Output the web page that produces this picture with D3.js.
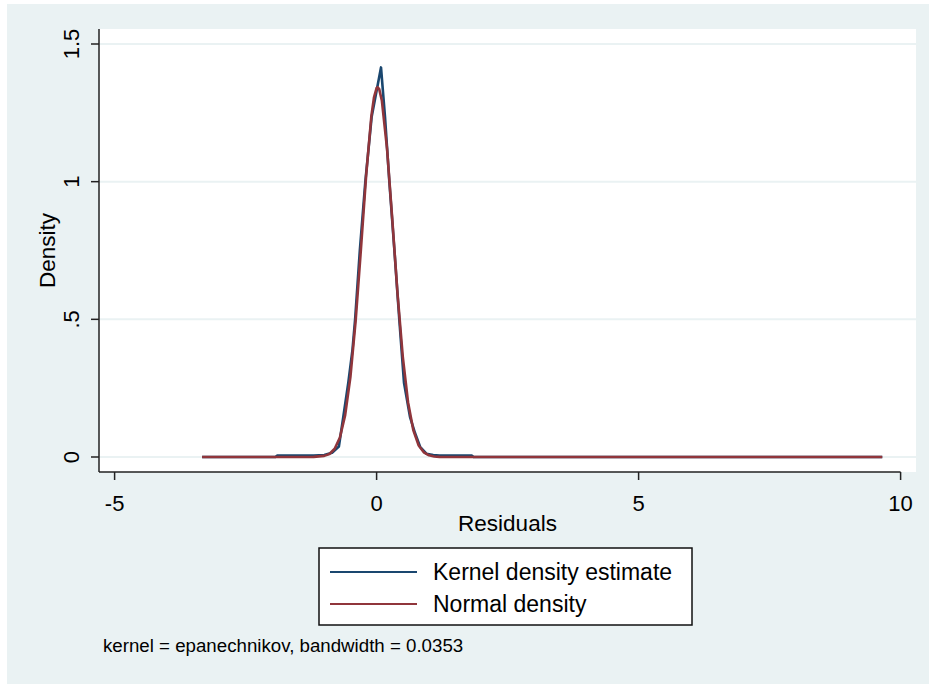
<!DOCTYPE html>
<html>
<head>
<meta charset="utf-8">
<script src="https://cdn.jsdelivr.net/npm/d3@7"></script>
<style>
  html, body { margin: 0; padding: 0; background: #fff; }
  text { font-family: "Liberation Sans", Arial, sans-serif; fill: #000; }
</style>
</head>
<body>
<div id="chart"></div>
<script>
// kernel density estimate (residual, density)
const kernelX = [-3.33, -1.93, -1.9, -1.2, -1.0, -0.85, -0.72, -0.635, -0.54, -0.46, -0.41, -0.32, -0.215, -0.094, 0.0, 0.084, 0.16, 0.243, 0.34, 0.433, 0.523, 0.637, 0.733, 0.83, 0.95, 1.08, 1.2, 1.82, 1.85, 9.65];
const kernelY = [0, 0, 0.005, 0.005, 0.007, 0.015, 0.038, 0.146, 0.27, 0.39, 0.5, 0.75, 1.0, 1.236, 1.33, 1.415, 1.236, 1.0, 0.75, 0.5, 0.27, 0.146, 0.087, 0.037, 0.012, 0.007, 0.005, 0.005, 0, 0];

// normal density overlay
const normalX = [-3.33, -1.5, -1.2, -1.0, -0.9, -0.8, -0.7, -0.6, -0.5, -0.4, -0.3, -0.2, -0.1, -0.05, 0.0, 0.02, 0.05, 0.1, 0.2, 0.3, 0.4, 0.5, 0.6, 0.7, 0.8, 0.9, 1.0, 1.1, 1.2, 1.5, 9.65];
const normalY = [0, 0, 0.0005, 0.004, 0.011, 0.030, 0.071, 0.152, 0.290, 0.494, 0.752, 1.021, 1.238, 1.306, 1.340, 1.343, 1.336, 1.295, 1.118, 0.861, 0.592, 0.364, 0.199, 0.098, 0.043, 0.017, 0.006, 0.002, 0.0005, 0, 0];

const xTicks = [-5, 0, 5, 10];
const yTicks = [0, 0.5, 1, 1.5];
const yTickLabels = ["0", ".5", "1", "1.5"];
const legendLabels = ["Kernel density estimate", "Normal density"];
const noteText = "kernel = epanechnikov, bandwidth = 0.0353";

const W = 930, H = 688;
const navy = "#1a476f", maroon = "#90353b", bgBlue = "#eaf2f3";

// plot region
const pl = 99, pr = 916, pt = 29, pb = 472;

const x = d3.scaleLinear().domain([-5, 10]).range([114.6, 900.6]);
const y = d3.scaleLinear().domain([0, 1.5]).range([457, 44]);

const svg = d3.select("#chart").append("svg")
  .attr("width", W)
  .attr("height", H);

svg.append("rect")
  .attr("x", 7).attr("y", 4)
  .attr("width", 922).attr("height", 680)
  .attr("fill", bgBlue);

svg.append("rect")
  .attr("x", pl).attr("y", pt)
  .attr("width", pr - pl).attr("height", pb - pt)
  .attr("fill", "#fff");

// grid lines
svg.append("g").selectAll("line")
  .data(yTicks)
  .join("line")
  .attr("x1", pl).attr("x2", pr)
  .attr("y1", d => y(d)).attr("y2", d => y(d))
  .attr("stroke", bgBlue)
  .attr("stroke-width", 2);

// curves
const kernelData = kernelX.map((v, i) => [v, kernelY[i]]);
const normalData = normalX.map((v, i) => [v, normalY[i]]);
const line = d3.line().x(d => x(d[0])).y(d => y(d[1]));

svg.append("path")
  .datum(kernelData)
  .attr("d", line)
  .attr("fill", "none")
  .attr("stroke", navy)
  .attr("stroke-width", 2.6)
  .attr("stroke-linejoin", "round");

svg.append("path")
  .datum(normalData)
  .attr("d", line)
  .attr("fill", "none")
  .attr("stroke", maroon)
  .attr("stroke-width", 2.6)
  .attr("stroke-linejoin", "round");

// axes
const xAxis = svg.append("g").attr("transform", `translate(0,${pb})`);
xAxis.append("line")
  .attr("x1", pl).attr("x2", x(10))
  .attr("stroke", "#222").attr("stroke-width", 1.5);
xAxis.selectAll(".tick")
  .data(xTicks)
  .join("line")
  .attr("x1", d => x(d)).attr("x2", d => x(d))
  .attr("y1", 0).attr("y2", 8)
  .attr("stroke", "#222").attr("stroke-width", 1.5);
xAxis.selectAll("text")
  .data(xTicks)
  .join("text")
  .attr("x", d => x(d))
  .attr("y", 39)
  .attr("text-anchor", "middle")
  .style("font-size", "22px")
  .text(d => d);

const yAxis = svg.append("g").attr("transform", `translate(${pl},0)`);
yAxis.append("line")
  .attr("y1", pt).attr("y2", pb)
  .attr("stroke", "#222").attr("stroke-width", 1.5);
yAxis.selectAll(".tick")
  .data(yTicks)
  .join("line")
  .attr("x1", 0).attr("x2", -8)
  .attr("y1", d => y(d)).attr("y2", d => y(d))
  .attr("stroke", "#222").attr("stroke-width", 1.5);
yAxis.selectAll("text")
  .data(yTicks)
  .join("text")
  .attr("transform", d => `translate(-20,${y(d)}) rotate(-90)`)
  .attr("text-anchor", "middle")
  .style("font-size", "22px")
  .text((d, i) => yTickLabels[i]);

// axis titles
svg.append("text")
  .attr("x", (pl + pr) / 2)
  .attr("y", 531)
  .attr("text-anchor", "middle")
  .style("font-size", "22.5px")
  .text("Residuals");

svg.append("text")
  .attr("transform", `translate(55,${(pt + pb) / 2}) rotate(-90)`)
  .attr("text-anchor", "middle")
  .style("font-size", "22.5px")
  .text("Density");

// legend
const legend = svg.append("g");
legend.append("rect")
  .attr("x", 319).attr("y", 548)
  .attr("width", 373).attr("height", 77)
  .attr("fill", "#fff")
  .attr("stroke", "#111")
  .attr("stroke-width", 1.5);

const legendRows = legend.selectAll("g")
  .data(legendLabels)
  .join("g")
  .attr("transform", (d, i) => `translate(0,${572 + i * 32})`);
legendRows.append("line")
  .attr("x1", 330).attr("x2", 417)
  .attr("stroke", (d, i) => i === 0 ? navy : maroon)
  .attr("stroke-width", 2);
legendRows.append("text")
  .attr("x", 433)
  .attr("y", 7.5)
  .style("font-size", "23px")
  .text(d => d);

svg.append("text")
  .attr("x", 103)
  .attr("y", 652)
  .style("font-size", "18.7px")
  .text(noteText);
</script>
</body>
</html>
